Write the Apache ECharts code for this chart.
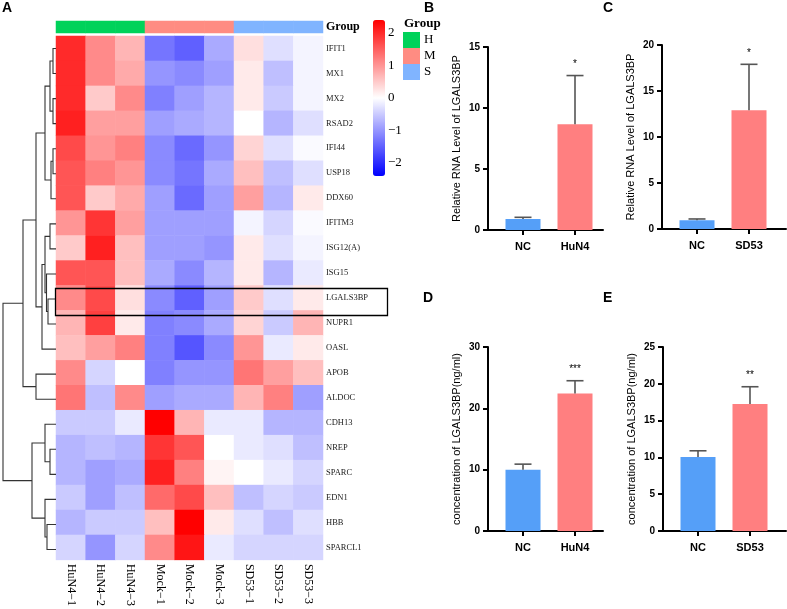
<!DOCTYPE html>
<html>
<head>
<meta charset="utf-8">
<script src="https://cdn.jsdelivr.net/npm/echarts@6/dist/echarts.min.js"></script>
<style>
  html, body { margin: 0; padding: 0; background: #fff; }
  #main { width: 787px; height: 609px; }
</style>
</head>
<body>
<div id="main"></div>
<script>
// heatmap data
const geneNames = ['IFIT1', 'MX1', 'MX2', 'RSAD2', 'IFI44', 'USP18', 'DDX60', 'IFITM3', 'ISG12(A)', 'ISG15',
  'LGALS3BP', 'NUPR1', 'OASL', 'APOB', 'ALDOC', 'CDH13', 'NREP', 'SPARC', 'EDN1', 'HBB', 'SPARCL1'];
const sampleNames = ['HuN4−1', 'HuN4−2', 'HuN4−3', 'Mock−1', 'Mock−2', 'Mock−3', 'SD53−1', 'SD53−2', 'SD53−3'];
const sampleGroups = [0, 0, 0, 1, 1, 1, 2, 2, 2];
const groupLabels = ['H', 'M', 'S'];
const groupColors = ['#00D25A', '#FF8C82', '#80B4FF'];
const colorTicks = [-2, -1, 0, 1, 2];

const zScores = [
  [2.0, 1.1, 0.7, -1.3, -1.5, -0.8, 0.3, -0.3, -0.1],
  [2.0, 1.1, 0.8, -1.0, -1.1, -0.9, 0.2, -0.6, -0.1],
  [2.0, 0.5, 1.1, -1.2, -0.9, -0.7, 0.2, -0.5, -0.1],
  [2.1, 0.9, 0.9, -0.9, -0.8, -0.7, 0.0, -0.7, -0.3],
  [1.7, 1.0, 1.2, -1.1, -1.4, -1.0, 0.4, -0.3, -0.05],
  [1.6, 1.2, 1.0, -1.1, -1.3, -0.8, 0.6, -0.6, -0.3],
  [1.6, 0.5, 0.8, -0.9, -1.4, -0.9, 0.9, -0.7, 0.2],
  [1.0, 1.9, 0.9, -0.9, -0.9, -0.9, -0.1, -0.4, -0.05],
  [0.5, 2.1, 0.6, -0.9, -0.9, -1.0, 0.2, -0.3, -0.1],
  [1.6, 1.6, 0.6, -0.8, -1.1, -0.7, 0.2, -0.7, -0.2],
  [1.1, 1.7, 0.3, -1.1, -1.5, -0.9, 0.5, -0.3, 0.2],
  [0.7, 1.8, 0.2, -1.2, -1.1, -0.8, 0.4, -0.5, 0.7],
  [0.6, 0.9, 1.2, -1.2, -1.6, -1.1, 1.0, -0.2, 0.2],
  [1.1, -0.4, 0.0, -1.2, -1.0, -1.0, 1.3, 0.9, 0.6],
  [1.3, -0.6, 1.1, -0.9, -0.8, -0.8, 0.7, 1.2, -0.9],
  [-0.5, -0.5, -0.2, 2.4, 0.7, -0.2, -0.2, -0.7, -0.7],
  [-0.7, -0.6, -0.7, 1.9, 1.6, 0.0, -0.2, -0.3, -0.6],
  [-0.7, -0.9, -0.8, 2.1, 1.2, 0.1, 0.0, -0.2, -0.4],
  [-0.5, -0.9, -0.6, 1.4, 1.7, 0.6, -0.6, -0.4, -0.5],
  [-0.7, -0.5, -0.5, 0.6, 2.4, 0.2, -0.3, -0.6, -0.3],
  [-0.4, -1.0, -0.4, 1.1, 2.2, -0.2, -0.4, -0.4, -0.4]
];

// row dendrogram: [left, right, height]; a number refers to an earlier merge
const dendroMerges = [
  ['IFIT1', 'MX1', 3],
  ['MX2', 'RSAD2', 3],
  [0, 1, 6],
  ['IFI44', 'USP18', 3],
  [3, 'DDX60', 5],
  [2, 4, 11],
  ['IFITM3', 'ISG12(A)', 6],
  ['LGALS3BP', 'NUPR1', 8],
  ['ISG15', 7, 9.5],
  [6, 8, 11],
  [9, 'OASL', 14],
  [5, 10, 20],
  ['APOB', 'ALDOC', 20],
  [11, 12, 33],
  ['NREP', 'SPARC', 6],
  ['CDH13', 14, 11],
  ['HBB', 'SPARCL1', 9],
  ['EDN1', 16, 11],
  [15, 17, 24],
  [13, 18, 53]
];

// bar panels
const barColors = ['#559FF8', '#FF7F80'];
const bCats = ['NC', 'HuN4'], bMeans = [0.9, 8.66], bErrs = [0.14, 4.0], bStars = ['', '*'];
const cCats = ['NC', 'SD53'], cMeans = [0.95, 12.9], cErrs = [0.14, 5.0], cStars = ['', '*'];
const dCats = ['NC', 'HuN4'], dMeans = [10.0, 22.4], dErrs = [0.9, 2.1], dStars = ['', '***'];
const eCats = ['NC', 'SD53'], eMeans = [10.05, 17.25], eErrs = [0.85, 2.35], eStars = ['', '**'];

const chart = echarts.init(document.getElementById('main'));
const serif = 'Liberation Serif';
const sans = 'Liberation Sans';

const heatData = [];
zScores.forEach((row, r) => row.forEach((v, c) => heatData.push([c, r, v])));
const groupData = sampleGroups.map((g, c) => [c, 0, g]);

// dendrogram segments
const nodeY = [], nodeH = [];
function pos(ref) {
  if (typeof ref === 'number') return [nodeY[ref], nodeH[ref]];
  return [geneNames.indexOf(ref), 0];
}
const dendroData = dendroMerges.map((m, i) => {
  const a = pos(m[0]), b = pos(m[1]);
  nodeY[i] = (a[0] + b[0]) / 2;
  nodeH[i] = m[2];
  return [m[2], a[0], b[0], a[1], b[1]];
});

function barPanel(idx, cats, means, errs, stars, left, top, width, height, yMax, yStep, yName) {
  const spacing = 52, firstOff = 35;
  const xMin = 1 - firstOff / spacing;
  const grid = { left: left, top: top, width: width, height: height };
  const xAxis = {
    type: 'value', gridIndex: idx, min: xMin, max: xMin + width / spacing,
    splitLine: { show: false },
    axisLine: { lineStyle: { color: '#000', width: 2 } },
    axisTick: { show: true, customValues: [1, 2], length: 5, lineStyle: { color: '#000', width: 2 } },
    axisLabel: { customValues: [1, 2], formatter: v => cats[Math.round(v) - 1], color: '#000',
      fontFamily: sans, fontWeight: 'bold', fontSize: 11, margin: 11 }
  };
  const yAxis = {
    type: 'value', gridIndex: idx, min: 0, max: yMax, interval: yStep,
    name: yName, nameLocation: 'middle', nameGap: 26,
    nameTextStyle: { fontFamily: sans, fontSize: 11, color: '#000' },
    splitLine: { show: false },
    axisLine: { show: true, lineStyle: { color: '#000', width: 2 } },
    axisTick: { show: true, length: 5, lineStyle: { color: '#000', width: 2 } },
    axisLabel: { color: '#000', fontFamily: sans, fontWeight: 'bold', fontSize: 10, margin: 8 }
  };
  const series = [{
    type: 'bar', xAxisIndex: idx, yAxisIndex: idx, barWidth: 35, silent: true,
    data: means.map((m, i) => ({ value: [i + 1, m], itemStyle: { color: barColors[i] } }))
  }, {
    type: 'custom', xAxisIndex: idx, yAxisIndex: idx, silent: true, z: 5,
    data: means.map((m, i) => [i + 1, m, errs[i]]),
    renderItem: function (params, api) {
      const x = api.value(0), m = api.value(1), e = api.value(2);
      const lo = api.coord([x, m]), hi = api.coord([x, m + e]);
      const st = { stroke: '#555', lineWidth: 1.6 };
      return {
        type: 'group', children: [
          { type: 'line', shape: { x1: lo[0], y1: lo[1], x2: hi[0], y2: hi[1] }, style: st },
          { type: 'line', shape: { x1: hi[0] - 8.5, y1: hi[1], x2: hi[0] + 8.5, y2: hi[1] }, style: st },
          { type: 'text', x: hi[0], y: hi[1] - 11,
            style: { text: stars[params.dataIndex], fill: '#000', font: '10px ' + sans, align: 'center', verticalAlign: 'middle' } }
        ]
      };
    }
  }];
  return { grid, xAxis, yAxis, series };
}

const pB = barPanel(4, bCats, bMeans, bErrs, bStars, 488, 47, 115, 183, 15, 5, 'Relative RNA Level of LGALS3BP');
const pC = barPanel(5, cCats, cMeans, cErrs, cStars, 662, 45, 124, 184, 20, 5, 'Relative RNA Level of LGALS3BP');
const pD = barPanel(6, dCats, dMeans, dErrs, dStars, 488, 347, 115, 184, 30, 10, 'concentration of LGALS3BP(ng/ml)');
const pE = barPanel(7, eCats, eMeans, eErrs, eStars, 663, 347, 123, 184, 25, 5, 'concentration of LGALS3BP(ng/ml)');
const panels = [pB, pC, pD, pE];

const letter = (t, l, tp) => ({ text: t, left: l, top: tp, padding: 0,
  textStyle: { fontFamily: sans, fontSize: 14, fontWeight: 'bold', color: '#000' } });

const option = {
  animation: false,
  title: [
    letter('A', 2, 1), letter('B', 424, 1), letter('C', 603, 1), letter('D', 423, 291), letter('E', 603, 291),
    { text: 'Group', left: 404, top: 17, padding: 0,
      textStyle: { fontFamily: serif, fontSize: 13, fontWeight: 'bold', color: '#000' } }
  ],
  grid: [
    { left: 56, top: 36, width: 267, height: 526 },
    { left: 56, top: 21, width: 267, height: 12 },
    { left: 2, top: 36, width: 54, height: 526 },
    { left: 373, top: 20, width: 12, height: 156 }
  ].concat(panels.map(p => p.grid)),
  xAxis: [
    { type: 'category', gridIndex: 0, data: sampleNames, position: 'bottom',
      axisLine: { show: false }, axisTick: { show: false }, splitLine: { show: false },
      axisLabel: { rotate: -90, margin: 4, fontFamily: serif, fontSize: 12, color: '#000' } },
    { type: 'category', gridIndex: 1, data: sampleNames, show: false },
    { type: 'value', gridIndex: 2, min: 0, max: 54, inverse: true, show: false },
    { type: 'value', gridIndex: 3, min: 0, max: 1, show: false }
  ].concat(panels.map(p => p.xAxis)),
  yAxis: [
    { type: 'category', gridIndex: 0, data: geneNames, inverse: true, position: 'right',
      axisLine: { show: false }, axisTick: { show: false }, splitLine: { show: false },
      axisLabel: { margin: 3, fontFamily: serif, fontSize: 8.5, color: '#222' } },
    { type: 'category', gridIndex: 1, data: ['Group'], position: 'right',
      axisLine: { show: false }, axisTick: { show: false },
      axisLabel: { margin: 3, fontFamily: serif, fontSize: 12, fontWeight: 'bold', color: '#000' } },
    { type: 'value', gridIndex: 2, min: -0.5, max: 20.5, inverse: true, show: false },
    { type: 'value', gridIndex: 3, min: -2.4, max: 2.4, position: 'right',
      axisLine: { show: false }, axisTick: { show: false }, splitLine: { show: false },
      axisLabel: { customValues: colorTicks, margin: 3, fontFamily: serif, fontSize: 13, color: '#000',
        formatter: v => (v < 0 ? '−' + (-v) : String(v)) } }
  ].concat(panels.map(p => p.yAxis)),
  visualMap: [
    { type: 'continuous', seriesIndex: 0, dimension: 2, min: -2.4, max: 2.4,
      left: 373, top: 20, itemWidth: 12, itemHeight: 156, padding: 0,
      calculable: false, hoverLink: false, text: null, showLabel: false,
      inRange: { color: ['#0000FF', '#FFFFFF', '#FF0000'] } },
    { type: 'piecewise', seriesIndex: 1, dimension: 2, left: 403, top: 32, padding: 0,
      orient: 'vertical', inverse: true, align: 'left',
      itemWidth: 17, itemHeight: 16, itemGap: 0, itemSymbol: 'rect', textGap: 4, hoverLink: false,
      selectedMode: false,
      textStyle: { fontFamily: serif, fontSize: 13, color: '#000' },
      pieces: groupLabels.map((g, i) => ({ value: i, label: g, color: groupColors[i] })) }
  ],
  graphic: [
    { type: 'rect', left: 53, top: 286, shape: { width: 332, height: 27 }, z: 100,
      style: { fill: 'none', stroke: '#000', lineWidth: 1.3 } }
  ],
  series: [
    { type: 'heatmap', xAxisIndex: 0, yAxisIndex: 0, data: heatData, silent: true },
    { type: 'heatmap', xAxisIndex: 1, yAxisIndex: 1, data: groupData, silent: true },
    { type: 'custom', xAxisIndex: 2, yAxisIndex: 2, data: dendroData, silent: true,
      renderItem: function (params, api) {
        const h = api.value(0), ya = api.value(1), yb = api.value(2), ha = api.value(3), hb = api.value(4);
        const pts = [api.coord([ha, ya]), api.coord([h, ya]), api.coord([h, yb]), api.coord([hb, yb])];
        return { type: 'polyline', shape: { points: pts }, style: { stroke: '#333', fill: 'none', lineWidth: 1.1 } };
      } }
  ].concat(pB.series, pC.series, pD.series, pE.series)
};

chart.setOption(option);
</script>
</body>
</html>
